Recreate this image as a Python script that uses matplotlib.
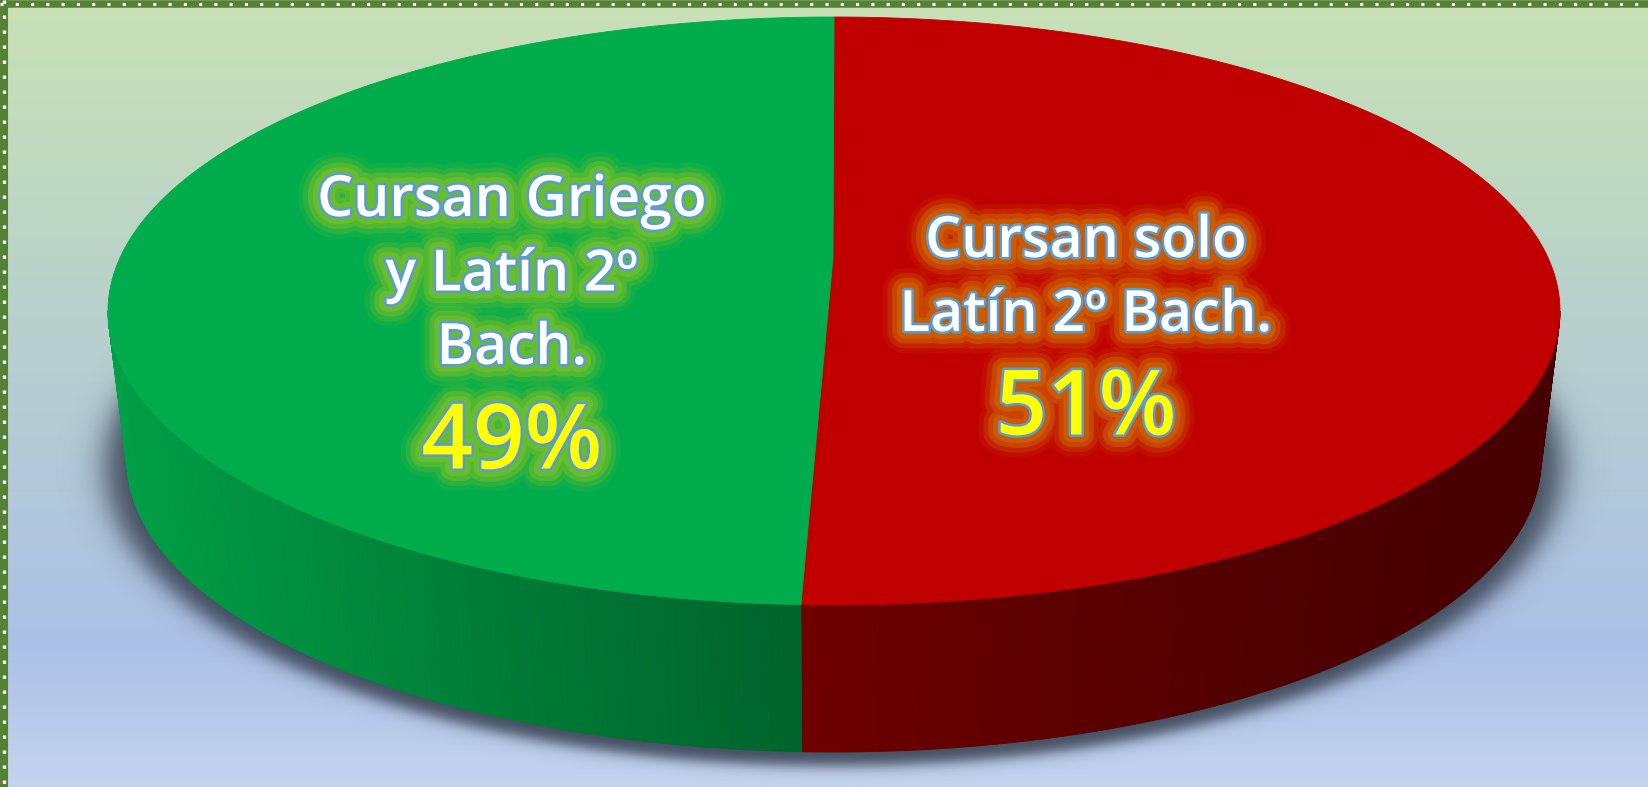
import numpy as np
import matplotlib
matplotlib.use("Agg")
import matplotlib.pyplot as plt
from matplotlib.patches import Polygon
import matplotlib.patheffects as pe

# data
labels = ["Cursan solo\nLatín 2º Bach.", "Cursan Griego\ny Latín 2º\nBach."]
values = [51, 49]
colors = ["#C00000", "#00AC4C"]
glow_colors = ["#CC5E00", "#6CBE2C"]

W, H = 1648, 787

# 3d pie geometry (pixels, y down)
CX, CY, RX, RY = 834, 311, 726, 294
CY_B, RX_B, RY_B = 460, 707, 292
APEX = (833, 258)      # where the slice edges meet on the top face
PERSP = 0.31           # squeezes the front of the disc a little

# label block anchors (centre of first line) and percent positions
label_pos = [(1086, 243), (512, 202)]
pct_pos = [(1086, 411), (512, 445)]
LINE_STEP = 74


def unit(phis_deg):
    # angle measured clockwise from the top -> point on the tilted disc
    t = np.radians(phis_deg)
    x, y = np.sin(t), -np.cos(t)
    d = 1 + PERSP * y
    return x * np.sqrt(1 - PERSP ** 2) / d, (y + PERSP) / d


def top_pts(phis):
    x, y = unit(phis)
    return np.column_stack([CX + RX * x, CY + RY * y])


def bot_pts(phis):
    x, y = unit(phis)
    return np.column_stack([CX + RX_B * x, CY_B + RY_B * y])


def shade(color, x):
    # x: 0 at right edge, 1 at left edge of the wall
    rgb = np.array(matplotlib.colors.to_rgb(color))
    f = 0.37 + 0.56 * np.clip(x, 0, 1) ** 1.5
    return tuple(rgb * f)


fig = plt.figure(figsize=(W / 100, H / 100), dpi=100)
ax = fig.add_axes([0, 0, 1, 1])
ax.set_xlim(0, W)
ax.set_ylim(H, 0)
ax.axis("off")

# background gradient
stops = np.array([0.0, 0.35, 0.82, 1.0])
stop_cols = np.array([
    [200, 225, 181],
    [186, 211, 201],
    [172, 192, 230],
    [196, 211, 238],
]) / 255.0
ys = np.linspace(0, 1, H)
grad = np.stack([np.interp(ys, stops, stop_cols[:, i]) for i in range(3)], axis=1)
bg = np.repeat(grad[:, None, :], 2, axis=1)
ax.imshow(bg, extent=[0, W, H, 0], aspect="auto", zorder=0, interpolation="bilinear")

# soft shadow under the pie
X, Y = np.meshgrid(np.arange(W) + 0.5, np.arange(H) + 0.5)
r = np.sqrt(((X - CX) / 728.0) ** 2 + ((Y - 466) / 300.0) ** 2)
alpha = 0.85 / (1 + np.exp((r - 1) / 0.013))
shadow = np.zeros((H, W, 4))
shadow[..., 0] = 45 / 255
shadow[..., 1] = 55 / 255
shadow[..., 2] = 70 / 255
shadow[..., 3] = alpha
ax.imshow(shadow, extent=[0, W, H, 0], aspect="auto", zorder=1)

# slice angles: start at top, clockwise
total = float(sum(values))
starts, ends = [], []
a0 = 0.0
for v in values:
    a1 = a0 + 360.0 * v / total
    starts.append(a0)
    ends.append(a1)
    a0 = a1

# side wall: only the front half of the disc outline is visible
vis_lo = np.degrees(np.arccos(PERSP))
vis_hi = 360.0 - vis_lo
for s, e, col in zip(starts, ends, colors):
    lo, hi = max(s, vis_lo), min(e, vis_hi)
    if hi <= lo:
        continue
    edges = np.linspace(lo, hi, int((hi - lo) * 2) + 2)
    for p0, p1 in zip(edges[:-1], edges[1:]):
        ph = np.linspace(p0, p1, 4)
        poly = np.vstack([top_pts(ph), bot_pts(ph[::-1])])
        xm = (top_pts([0.5 * (p0 + p1)])[0, 0] - (CX - RX)) / (2 * RX)
        c = shade(col, 1 - xm)
        ax.add_patch(Polygon(poly, closed=True, facecolor=c, edgecolor=c,
                             linewidth=0.6, zorder=2))

# top face
for s, e, col in zip(starts, ends, colors):
    ph = np.linspace(s, e, 400)
    poly = np.vstack([APEX, top_pts(ph)])
    ax.add_patch(Polygon(poly, closed=True, facecolor=col, edgecolor=col,
                         linewidth=0.6, zorder=3))


def glow(gc):
    return [
        pe.withStroke(linewidth=32, foreground=gc, alpha=0.15),
        pe.withStroke(linewidth=25, foreground=gc, alpha=0.3),
        pe.withStroke(linewidth=18, foreground=gc, alpha=0.55),
        pe.withStroke(linewidth=11, foreground=gc, alpha=0.9),
        pe.withStroke(linewidth=3.6, foreground="#5B9BD5"),
    ]


for lab, v, gc, (lx, ly), (px, py) in zip(labels, values, glow_colors, label_pos, pct_pos):
    for i, line in enumerate(lab.split("\n")):
        ax.text(lx, ly + i * LINE_STEP, line, ha="center", va="center",
                fontsize=41, fontfamily="Open Sans", fontweight="semibold",
                color="white", path_effects=glow(gc), zorder=5)
    ax.text(px, py, f"{v:.0f}%", ha="center", va="center",
            fontsize=65, fontfamily="Open Sans", fontweight="semibold",
            color="#FFFF00", path_effects=glow(gc), zorder=5)

# dotted green frame on top and left
ax.plot([0, W], [3.5, 3.5], color="#548235", linewidth=5.4, solid_capstyle="butt", zorder=6)
ax.plot([4, 4], [0, H], color="#548235", linewidth=5.8, solid_capstyle="butt", zorder=6)
ax.plot([0, W], [3.8, 3.8], color="white", linewidth=2.2, linestyle=(0, (1.0, 4.0)), zorder=7)
ax.plot([4.2, 4.2], [0, H], color="white", linewidth=2.4, linestyle=(0, (1.0, 3.5)), zorder=7)

fig.savefig("out.png", dpi=100)
